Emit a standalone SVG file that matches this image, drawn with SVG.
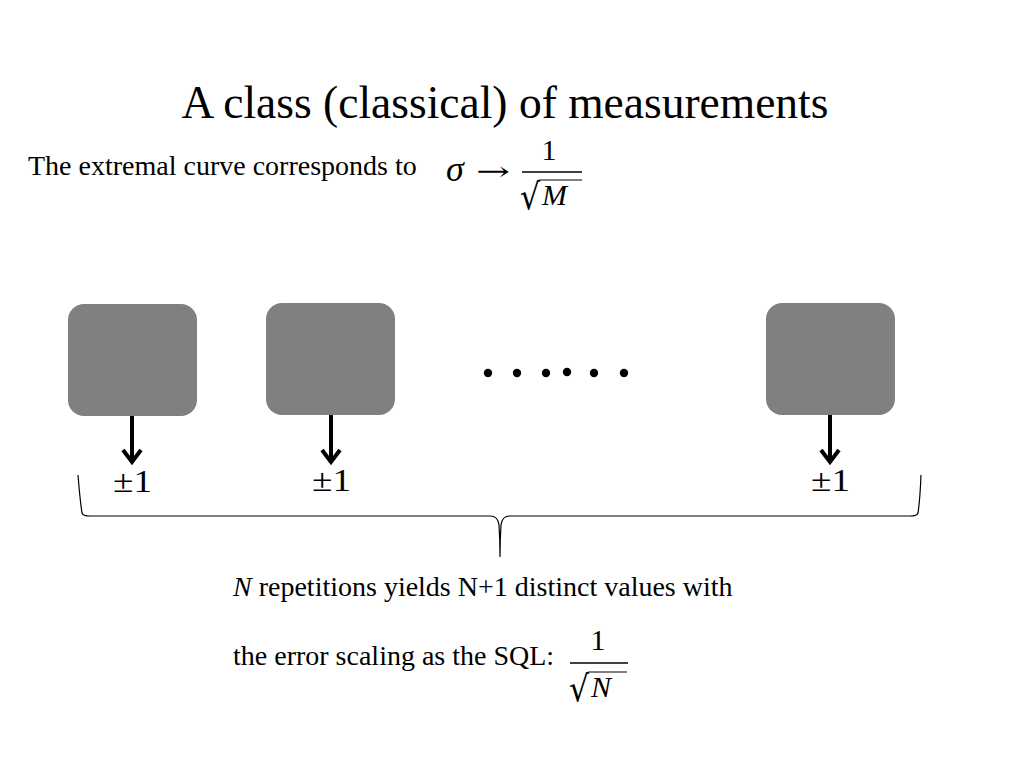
<svg xmlns="http://www.w3.org/2000/svg" width="1024" height="768" viewBox="0 0 1024 768">
<defs>
<style>
.t{font-family:"Liberation Serif","Times New Roman",serif;fill:#000}
.m{font-family:"DejaVu Serif","Liberation Serif",serif;fill:#000}
.mi{font-family:"Liberation Serif",serif;font-style:italic;fill:#000}
.box{fill:#808080}
.arr{stroke:#000;stroke-width:4;fill:none}
.brace{stroke:#000;stroke-width:1.2;fill:none}
</style>
</defs>
<rect width="1024" height="768" fill="#fff"/>
<text class="t" x="505" y="118" font-size="45.5" text-anchor="middle">A class (classical) of measurements</text>
<text class="t" x="28" y="175" font-size="28">The extremal curve corresponds to</text>
<g id="formula1">
<text class="mi" x="446" y="181" font-size="36">σ</text>
<text class="m" x="476" y="180" font-size="26" textLength="34" lengthAdjust="spacingAndGlyphs">→</text>
<text class="t" x="549" y="160" font-size="30" text-anchor="middle">1</text>
<line x1="522" y1="172" x2="582" y2="172" stroke="#000" stroke-width="1.4"/>
<text class="m" x="520" y="209" font-size="36" textLength="20" lengthAdjust="spacingAndGlyphs">√</text>
<line x1="539" y1="180" x2="582" y2="180" stroke="#000" stroke-width="1.2"/>
<text class="mi" x="542" y="205" font-size="30">M</text>
</g>
<g id="node1"><rect class="box" x="68" y="304" width="129" height="112" rx="16"/></g>
<g id="node2"><rect class="box" x="266" y="303" width="129" height="112" rx="16"/></g>
<g id="node3"><rect class="box" x="766" y="303" width="129" height="112" rx="16"/></g>
<g id="dots" fill="#000">
<circle cx="488" cy="373" r="4.2"/><circle cx="517" cy="373" r="4.2"/><circle cx="546" cy="373" r="4.2"/>
<circle cx="567" cy="372" r="4.2"/><circle cx="594" cy="373" r="4.2"/><circle cx="624" cy="373" r="4.2"/>
</g>
<g id="connectors">
<path class="arr" d="M132 416 V461 M123 450 L132 462 L141 450"/>
<path class="arr" d="M331 415 V461 M322 450 L331 462 L340 450"/>
<path class="arr" d="M830 415 V461 M821 450 L830 462 L839 450"/>
<path class="brace" d="M78 475 Q80 500 82 513 Q83 516 90 516 H490 Q498 516 499 525 Q500 540 500 557 Q500 540 501 525 Q502 516 510 516 H910 Q917 516 918 513 Q920 500 921 475"/>
</g>
<g id="labels">
<text class="t" x="113" y="492" font-size="31" textLength="39" lengthAdjust="spacingAndGlyphs">±1</text>
<text class="t" x="312" y="491" font-size="31" textLength="39" lengthAdjust="spacingAndGlyphs">±1</text>
<text class="t" x="811" y="491" font-size="31" textLength="39" lengthAdjust="spacingAndGlyphs">±1</text>
</g>
<text class="t" x="233" y="596" font-size="28"><tspan font-style="italic">N</tspan> repetitions yields N+1 distinct values with</text>
<text class="t" x="233" y="665" font-size="28">the error scaling as the SQL:</text>
<g id="formula2">
<text class="t" x="598" y="650" font-size="30" text-anchor="middle">1</text>
<line x1="570" y1="663" x2="628" y2="663" stroke="#000" stroke-width="1.4"/>
<text class="m" x="569" y="701" font-size="36" textLength="20" lengthAdjust="spacingAndGlyphs">√</text>
<line x1="588" y1="672" x2="627" y2="672" stroke="#000" stroke-width="1.2"/>
<text class="mi" x="591" y="697" font-size="30">N</text>
</g>
</svg>
